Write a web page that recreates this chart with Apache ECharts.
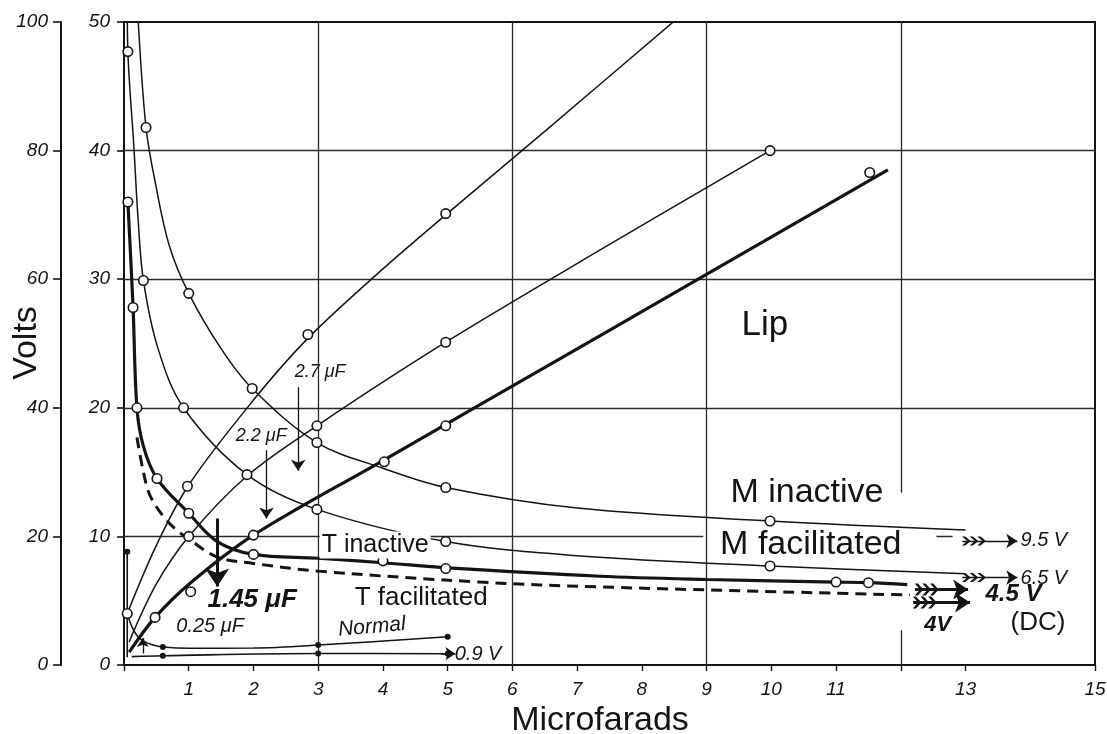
<!DOCTYPE html>
<html>
<head>
<meta charset="utf-8">
<script src="https://cdn.jsdelivr.net/npm/echarts@6/dist/echarts.min.js"></script>
<style>
  html, body { margin: 0; padding: 0; background: #fff; }
  #chart { width: 1107px; height: 734px; }
</style>
</head>
<body>
<div id="chart"></div>
<script>
// Threshold voltage against condenser capacity (μF) for lip, M and T preparations.

// ---- axis ticks ----
const xLabelValues = [1, 2, 3, 4, 5, 6, 7, 8, 9, 10, 11, 13, 15];
const xTickValues = [0, 1, 2, 3, 4, 5, 6, 7, 8, 9, 10, 11, 12, 13, 15];
const voltsInner = [0, 10, 20, 30, 40, 50];
const voltsOuter = [0, 20, 40, 60, 80, 100];

// ---- curves: [μF, volts] ----
const mInactive = [[0.19, 54], [0.22, 50], [0.34, 41.8], [0.48, 37.6], [0.7, 32.6], [1.0, 28.9], [1.5, 24.6],
  [1.98, 21.5], [2.98, 17.3], [4.0, 15.3], [4.97, 13.8], [7.0, 12.2], [9.98, 11.2], [13.0, 10.5]];
const mInactivePts = [[0.34, 41.8], [1.0, 28.9], [1.98, 21.5], [2.98, 17.3], [4.97, 13.8], [9.98, 11.2]];

const mFacilitated = [[0.05, 52], [0.06, 47.7], [0.15, 40.5], [0.22, 34.5], [0.3, 29.9], [0.52, 24.7], [0.92, 20.0],
  [1.9, 14.8], [2.98, 12.1], [4.97, 9.6], [7.0, 8.5], [9.98, 7.7], [13.0, 7.1]];
const mFacilitatedPts = [[0.06, 47.7], [0.3, 29.9], [0.92, 20.0], [2.98, 12.1], [4.97, 9.6], [9.98, 7.7]];

const tInactive = [[0.06, 36.0], [0.14, 27.8], [0.2, 20.0], [0.3, 17.0], [0.51, 14.5], [1.0, 11.8], [1.44, 9.6],
  [2.0, 8.6], [3.0, 8.3], [4.0, 7.95], [5.0, 7.55], [7.35, 6.9], [9.0, 6.65], [11.0, 6.45], [11.5, 6.4], [12.1, 6.25]];
const tInactivePts = [[0.06, 36.0], [0.14, 27.8], [0.2, 20.0], [0.51, 14.5], [1.0, 11.8], [2.0, 8.6], [4.0, 8.1],
  [4.97, 7.5], [11.0, 6.45], [11.5, 6.4]];

const tFacilitated = [[0.2, 17.7], [0.3, 15.0], [0.4, 13.2], [0.6, 11.6], [0.79, 10.6], [1.0, 9.8], [1.44, 8.4],
  [2.0, 7.9], [3.0, 7.3], [5.5, 6.45], [7.35, 6.07], [12.14, 5.44]];

const lip = [[0.08, 1.0], [0.48, 3.7], [1.03, 6.4], [2.0, 10.1], [4.0, 15.9], [7.35, 25.6], [11.8, 38.5]];
const lipPts = [[0.48, 3.7], [1.03, 5.7], [2.0, 10.1], [4.02, 15.8], [4.97, 18.6], [11.52, 38.3]];

const riseA = [[0.05, 4.0], [0.5, 9.3], [1.0, 14.0], [2.0, 20.6], [2.84, 25.4], [4.0, 30.8], [4.97, 35.0],
  [6.5, 41.5], [8.6, 50.5]];
const riseAPts = [[0.05, 4.0], [0.98, 13.9], [2.84, 25.7], [4.97, 35.1]];

const riseB = [[0.08, 1.8], [0.5, 6.3], [1.0, 10.0], [1.9, 14.7], [2.98, 18.6], [4.97, 25.1], [7.5, 32.7], [9.98, 40.0]];
const riseBPts = [[1.0, 10.0], [1.9, 14.8], [2.98, 18.6], [4.97, 25.1], [9.98, 40.0]];

const normal = [[0.05, 4.0], [0.12, 3.0], [0.2, 2.3], [0.3, 1.85], [0.45, 1.55], [0.6, 1.4], [1.0, 1.3],
  [2.0, 1.32], [3.0, 1.55], [5.0, 2.2]];
const normalDots = [[0.6, 1.4], [3.0, 1.55], [5.0, 2.2]];

const dcLine = [[0.12, 0.65], [0.6, 0.72], [3.0, 0.9], [5.0, 0.88]];
const dcDots = [[0.6, 0.72], [3.0, 0.9], [5.0, 0.88]];

const restMark = [[0.05, 0.6], [0.05, 8.8]];

// ---- pointers: [μF, from volts, to volts] ----
const capPointers = [[2.69, 21.6, 15.1], [2.2, 16.7, 11.4]];
const crossPointer = [1.44, 11.4, 6.1];
const normalPointer = [0.29, 0.9, 2.1];

// ---- asymptote arrows: [from μF, to μF, volts] ----
const limitThin = [[12.95, 13.8, 9.64], [12.95, 13.8, 6.8]];
const limitBold = [[12.22, 13.04, 5.88], [12.19, 13.07, 4.86]];
const dcArrow = [4.9, 5.12, 0.88];

// ---- drawing ----
const ink = '#141414';
const sans = 'Liberation Sans, Arial, Helvetica, sans-serif';
const hand = { fontFamily: sans, fontStyle: 'italic', color: ink };

function curve(data, width, type) {
  return {
    type: 'line', data, smooth: 0.35, symbol: 'none', showSymbol: false, clip: true, silent: true,
    lineStyle: { color: ink, width, type: type || 'solid', opacity: 1 }, z: 3
  };
}
function rings(data) {
  return {
    type: 'scatter', data, symbol: 'circle', symbolSize: 9.5, silent: true, z: 6,
    itemStyle: { color: '#fff', borderColor: ink, borderWidth: 1.6, opacity: 1 }
  };
}
function dots(data) {
  return {
    type: 'scatter', data, symbol: 'circle', symbolSize: 6, silent: true, z: 6,
    itemStyle: { color: ink, opacity: 1 }
  };
}
function strokes(segments, width, withHead, headSize, z) {
  return {
    type: 'lines', coordinateSystem: 'cartesian2d', polyline: false, silent: true, z: z || 4,
    data: segments.map(c => ({ coords: c })),
    symbol: withHead ? ['none', 'arrow'] : ['none', 'none'],
    symbolSize: headSize || 10,
    lineStyle: { color: ink, width, opacity: 1, curveness: 0 }
  };
}
const featherPath = 'path://M0,0L5,5L0,10L3,10L8,5L3,0Z M7,0L12,5L7,10L10,10L15,5L10,0Z M14,0L19,5L14,10L17,10L22,5L17,0Z';
function feathers(arrows, size) {
  return {
    type: 'scatter', silent: true, z: 7, symbol: featherPath, symbolSize: size,
    data: arrows.map(a => [a[0] + 0.18, a[2]]), itemStyle: { color: ink, opacity: 1 }
  };
}

// grid rules, partly interrupted around the lettering
const rules = [
  [[3, 0], [3, 50]], [[6, 0], [6, 50]], [[9, 0], [9, 50]],
  [[12, 50], [12, 13.4]], [[12, 2.7], [12, 0]],
  [[0, 20], [15, 20]], [[0, 30], [15, 30]], [[0, 40], [15, 40]],
  [[0, 10], [8.95, 10]], [[12.55, 10.05], [12.8, 10.05]]
];

function tag(x, y, text, style) {
  return {
    value: [x, y],
    label: Object.assign({ show: true, formatter: text, position: 'inside', opacity: 1 }, style)
  };
}
const big = s => ({ fontFamily: sans, color: ink, fontSize: s });
const script = (s, extra) => Object.assign({}, hand, { fontSize: s }, extra || {});

const tags = [
  tag(9.9, 26.4, 'Lip', big(35)),
  tag(10.55, 13.4, 'M inactive', big(34)),
  tag(10.61, 9.33, 'M facilitated', big(34)),
  tag(3.88, 9.33, 'T inactive', Object.assign(big(25), { backgroundColor: '#fff', padding: [1, 2] })),
  tag(4.59, 5.2, 'T facilitated', big(26)),
  tag(14.12, 3.27, '(DC)', big(26)),
  tag(3.03, 22.8, '2.7 μF', script(18)),
  tag(2.12, 17.8, '2.2 μF', script(18)),
  tag(1.98, 5.05, '1.45 μF', script(26, { fontWeight: 'bold' })),
  tag(1.33, 3.03, '0.25 μF', script(20)),
  tag(3.83, 2.95, 'Normal', script(21, { rotate: 5 })),
  tag(5.47, 0.85, '0.9 V', script(20)),
  tag(14.21, 9.72, '9.5 V', script(20)),
  tag(14.21, 6.77, '6.5 V', script(20)),
  tag(13.74, 5.52, '4.5 V', script(24, { fontWeight: 'bold' })),
  tag(12.57, 3.11, '4V', script(22, { fontWeight: 'bold' }))
];

const axisInk = { color: ink, width: 2 };
const option = {
  animation: false,
  backgroundColor: '#fff',
  grid: {
    left: 124, right: 12, top: 22, bottom: 69, containLabel: false, outerBoundsMode: 'none',
    show: true, borderColor: ink, borderWidth: 2
  },
  // vertical axis title, set between the two volt scales
  graphic: [{
    type: 'text', x: 27, y: 343, rotation: Math.PI / 2, silent: true,
    style: { text: 'Volts', fill: ink, font: '34px ' + sans, align: 'center', verticalAlign: 'middle' }
  }],
  xAxis: {
    type: 'value', min: 0, max: 15, interval: 1,
    name: 'Microfarads', nameLocation: 'middle', nameGap: 33,
    nameTextStyle: { fontFamily: sans, fontSize: 34, color: ink, padding: [0, 19, 0, 0] },
    axisLine: { show: true, onZero: false, lineStyle: axisInk },
    axisTick: { show: true, length: 6, customValues: xTickValues, lineStyle: { color: ink, width: 1.4 } },
    axisLabel: Object.assign({}, hand, { fontSize: 19, margin: 15,
      formatter: v => (xLabelValues.indexOf(v) >= 0 ? String(v) : '') }),
    splitLine: { show: false }
  },
  yAxis: [
    {
      type: 'value', min: 0, max: 50, interval: 10, position: 'left',
      axisLine: { show: true, onZero: false, lineStyle: axisInk },
      axisTick: { show: true, length: 7, lineStyle: { color: ink, width: 1.6 } },
      axisLabel: Object.assign({}, hand, { fontSize: 19, margin: 14,
        formatter: v => (voltsInner.indexOf(v) >= 0 ? String(v) : '') }),
      splitLine: { show: false }
    },
    {
      type: 'value', min: 0, max: 100, interval: 20, position: 'left', offset: 63,
      axisLine: { show: true, onZero: false, lineStyle: axisInk },
      axisTick: { show: true, length: 8, lineStyle: { color: ink, width: 1.6 } },
      axisLabel: Object.assign({}, hand, { fontSize: 19, margin: 13,
        formatter: v => (voltsOuter.indexOf(v) >= 0 ? String(v) : '') }),
      splitLine: { show: false }
    }
  ],
  series: [
    Object.assign(strokes(rules, 1.3, false, 0, 1), { lineStyle: { color: '#2a2a2a', width: 1.3, opacity: 1 } }),
    curve(mInactive, 1.5),
    curve(mFacilitated, 1.5),
    curve(riseA, 1.5),
    curve(riseB, 1.5),
    curve(lip, 3.2),
    curve(tInactive, 3.2),
    curve(tFacilitated, 3, [11, 7]),
    curve(normal, 1.5),
    curve(dcLine, 1.6),
    Object.assign(curve(restMark, 1.6), { smooth: false }),
    rings(mInactivePts), rings(mFacilitatedPts), rings(tInactivePts), rings(lipPts),
    rings(riseAPts), rings(riseBPts),
    dots(normalDots), dots(dcDots), dots([restMark[1]]),
    strokes(capPointers.map(p => [[p[0], p[1]], [p[0], p[2]]]), 1.3, true, 11),
    strokes([[[crossPointer[0], crossPointer[1]], [crossPointer[0], crossPointer[2]]]], 3, true, 18),
    strokes([[[normalPointer[0], normalPointer[1]], [normalPointer[0], normalPointer[2]]]], 1.3, true, 9),
    strokes(limitThin.map(a => [[a[0], a[2]], [a[1], a[2]]]), 1.4, true, 11),
    strokes(limitBold.map(a => [[a[0], a[2]], [a[1], a[2]]]), 3, true, 15),
    strokes([[[dcArrow[0], dcArrow[2]], [dcArrow[1], dcArrow[2]]]], 1.6, true, 10),
    feathers(limitThin, [24, 9]),
    feathers(limitBold, [24, 12]),
    {
      type: 'scatter', data: tags, symbol: 'rect', symbolSize: 1, silent: true, z: 10,
      itemStyle: { color: 'rgba(0,0,0,0)', opacity: 1 }
    }
  ]
};

const chart = echarts.init(document.getElementById('chart'), null, { renderer: 'canvas' });
chart.setOption(option);
</script>
</body>
</html>
